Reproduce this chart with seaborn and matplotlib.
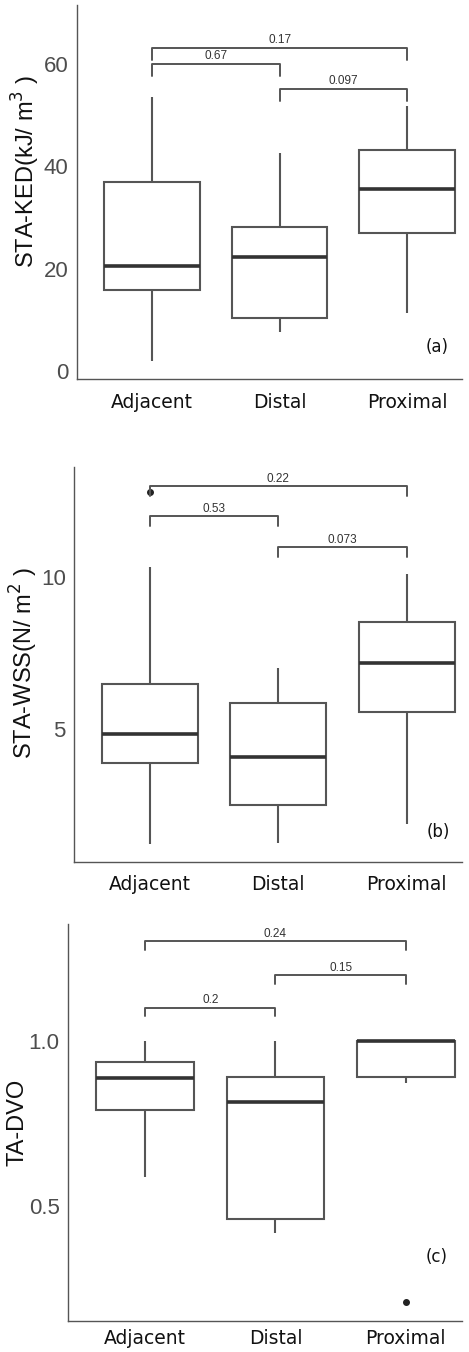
import numpy as np
import matplotlib
matplotlib.use("Agg")
import matplotlib.pyplot as plt
import seaborn as sns
import pandas as pd

# 分组
groups = ["Adjacent", "Distal", "Proximal"]

# 五数概括: [下须, Q1, 中位数, Q3, 上须] 
ked_stats = [[2.0, 15.8, 20.5, 37.0, 53.6],
             [7.5, 10.4, 22.3, 28.2, 42.6],
             [11.3, 27.0, 35.6, 43.3, 51.8]]
ked_outliers = [[], [], []]

wss_stats = [[1.24, 3.89, 4.84, 6.48, 10.31],
             [1.26, 2.52, 4.10, 5.85, 7.01],
             [1.90, 5.58, 7.18, 8.51, 10.08]]
wss_outliers = [[12.79], [], []]

dvo_stats = [[0.587, 0.79, 0.887, 0.936, 1.0],
             [0.42, 0.46, 0.816, 0.891, 1.0],
             [0.872, 0.892, 1.0, 1.0, 1.0]]
dvo_outliers = [[], [], [0.21]]

# 显著性标注: (组1, 组2, p值)
ked_pairs = [("Adjacent", "Proximal", "0.17"), ("Adjacent", "Distal", "0.67"), ("Distal", "Proximal", "0.097")]
ked_levels = [63.2, 60.1, 55.2]
wss_pairs = [("Adjacent", "Proximal", "0.22"), ("Adjacent", "Distal", "0.53"), ("Distal", "Proximal", "0.073")]
wss_levels = [12.98, 11.99, 10.98]
dvo_pairs = [("Adjacent", "Proximal", "0.24"), ("Distal", "Proximal", "0.15"), ("Adjacent", "Distal", "0.2")]
dvo_levels = [1.301, 1.198, 1.101]


def make_frame(stats, outliers):
    # 用五数概括构造样本，使分位数与图中一致
    rows = []
    for g, s, o in zip(groups, stats, outliers):
        lo, q1, med, q3, hi = s
        for v in [lo, q1, q1, med, med, q3, q3, hi] + o:
            rows.append((g, v))
    return pd.DataFrame(rows, columns=["group", "value"])


sns.set_theme(style="white")
plt.rcParams['font.family'] = ['Liberation Sans', 'DejaVu Sans']

fig = plt.figure(figsize=(4.69, 13.52), dpi=100)
axes = [fig.add_axes([0.164, 0.7197, 0.821, 0.2766]),
        fig.add_axes([0.158, 0.3624, 0.827, 0.2922]),
        fig.add_axes([0.145, 0.0229, 0.840, 0.2937])]

panels = [
    (ked_stats, ked_outliers, ked_pairs, ked_levels, "STA-KED(kJ/ m$^3$ )", (-1.6, 71.6), [0, 20, 40, 60], "(a)", (0.935, 0.086), 2.4, (-0.091, 0.556), 7),
    (wss_stats, wss_outliers, wss_pairs, wss_levels, "STA-WSS(N/ m$^2$ )", (0.65, 13.6), [5, 10], "(b)", (0.94, 0.077), 0.33, (-0.088, 0.503), 6),
    (dvo_stats, dvo_outliers, dvo_pairs, dvo_levels, "TA-DVO", (0.152, 1.354), [0.5, 1.0], "(c)", (0.936, 0.162), 0.027, (-0.10, 0.50), 3),
]

line_c = "#555555"
for ax, (stats, outl, pairs, levels, ylab, ylim, yticks, tag, tagpos, tip, labpos, xpad) in zip(axes, panels):
    df = make_frame(stats, outl)
    sns.boxplot(data=df, x="group", y="value", order=groups, ax=ax, width=0.75,
                color="white", linecolor=line_c, linewidth=1.5, showcaps=False,
                medianprops=dict(linewidth=2.6, color="#333333"),
                flierprops=dict(marker="o", markersize=4, markerfacecolor="#222222",
                                markeredgecolor="#222222"))
    # 显著性括号
    for (g1, g2, p), yl in zip(pairs, levels):
        x1, x2 = groups.index(g1), groups.index(g2)
        ax.plot([x1, x1, x2, x2], [yl - tip, yl, yl, yl - tip], color=line_c, lw=1.4, clip_on=False)
        ax.text((x1 + x2) / 2, yl + tip * 0.12, p, ha="center", va="bottom", fontsize=8.5, color="#333333")
    ax.set_xlim(-0.59, 2.43)
    ax.set_ylim(*ylim)
    ax.set_yticks(yticks)
    ax.set_yticklabels([str(t) for t in yticks], fontsize=16, color="#4d4d4d")
    ax.set_xticks(range(3))
    ax.set_xticklabels(groups, fontsize=13.5, family="DejaVu Sans", color="#111111")
    ax.set_xlabel("")
    ax.set_ylabel(ylab, fontsize=17, color="#111111")
    ax.yaxis.set_label_coords(*labpos)
    ax.tick_params(axis="both", length=3, width=0.8, color="#555555", pad=3)
    ax.tick_params(axis="x", pad=xpad)
    for side in ["top", "right"]:
        ax.spines[side].set_visible(False)
    for side in ["left", "bottom"]:
        ax.spines[side].set_color("#555555")
        ax.spines[side].set_linewidth(1.0)
    ax.text(tagpos[0], tagpos[1], tag, transform=ax.transAxes, ha="center", va="center",
            fontsize=12, family="DejaVu Sans", color="#111111")

fig.savefig("out.png", dpi=100)
